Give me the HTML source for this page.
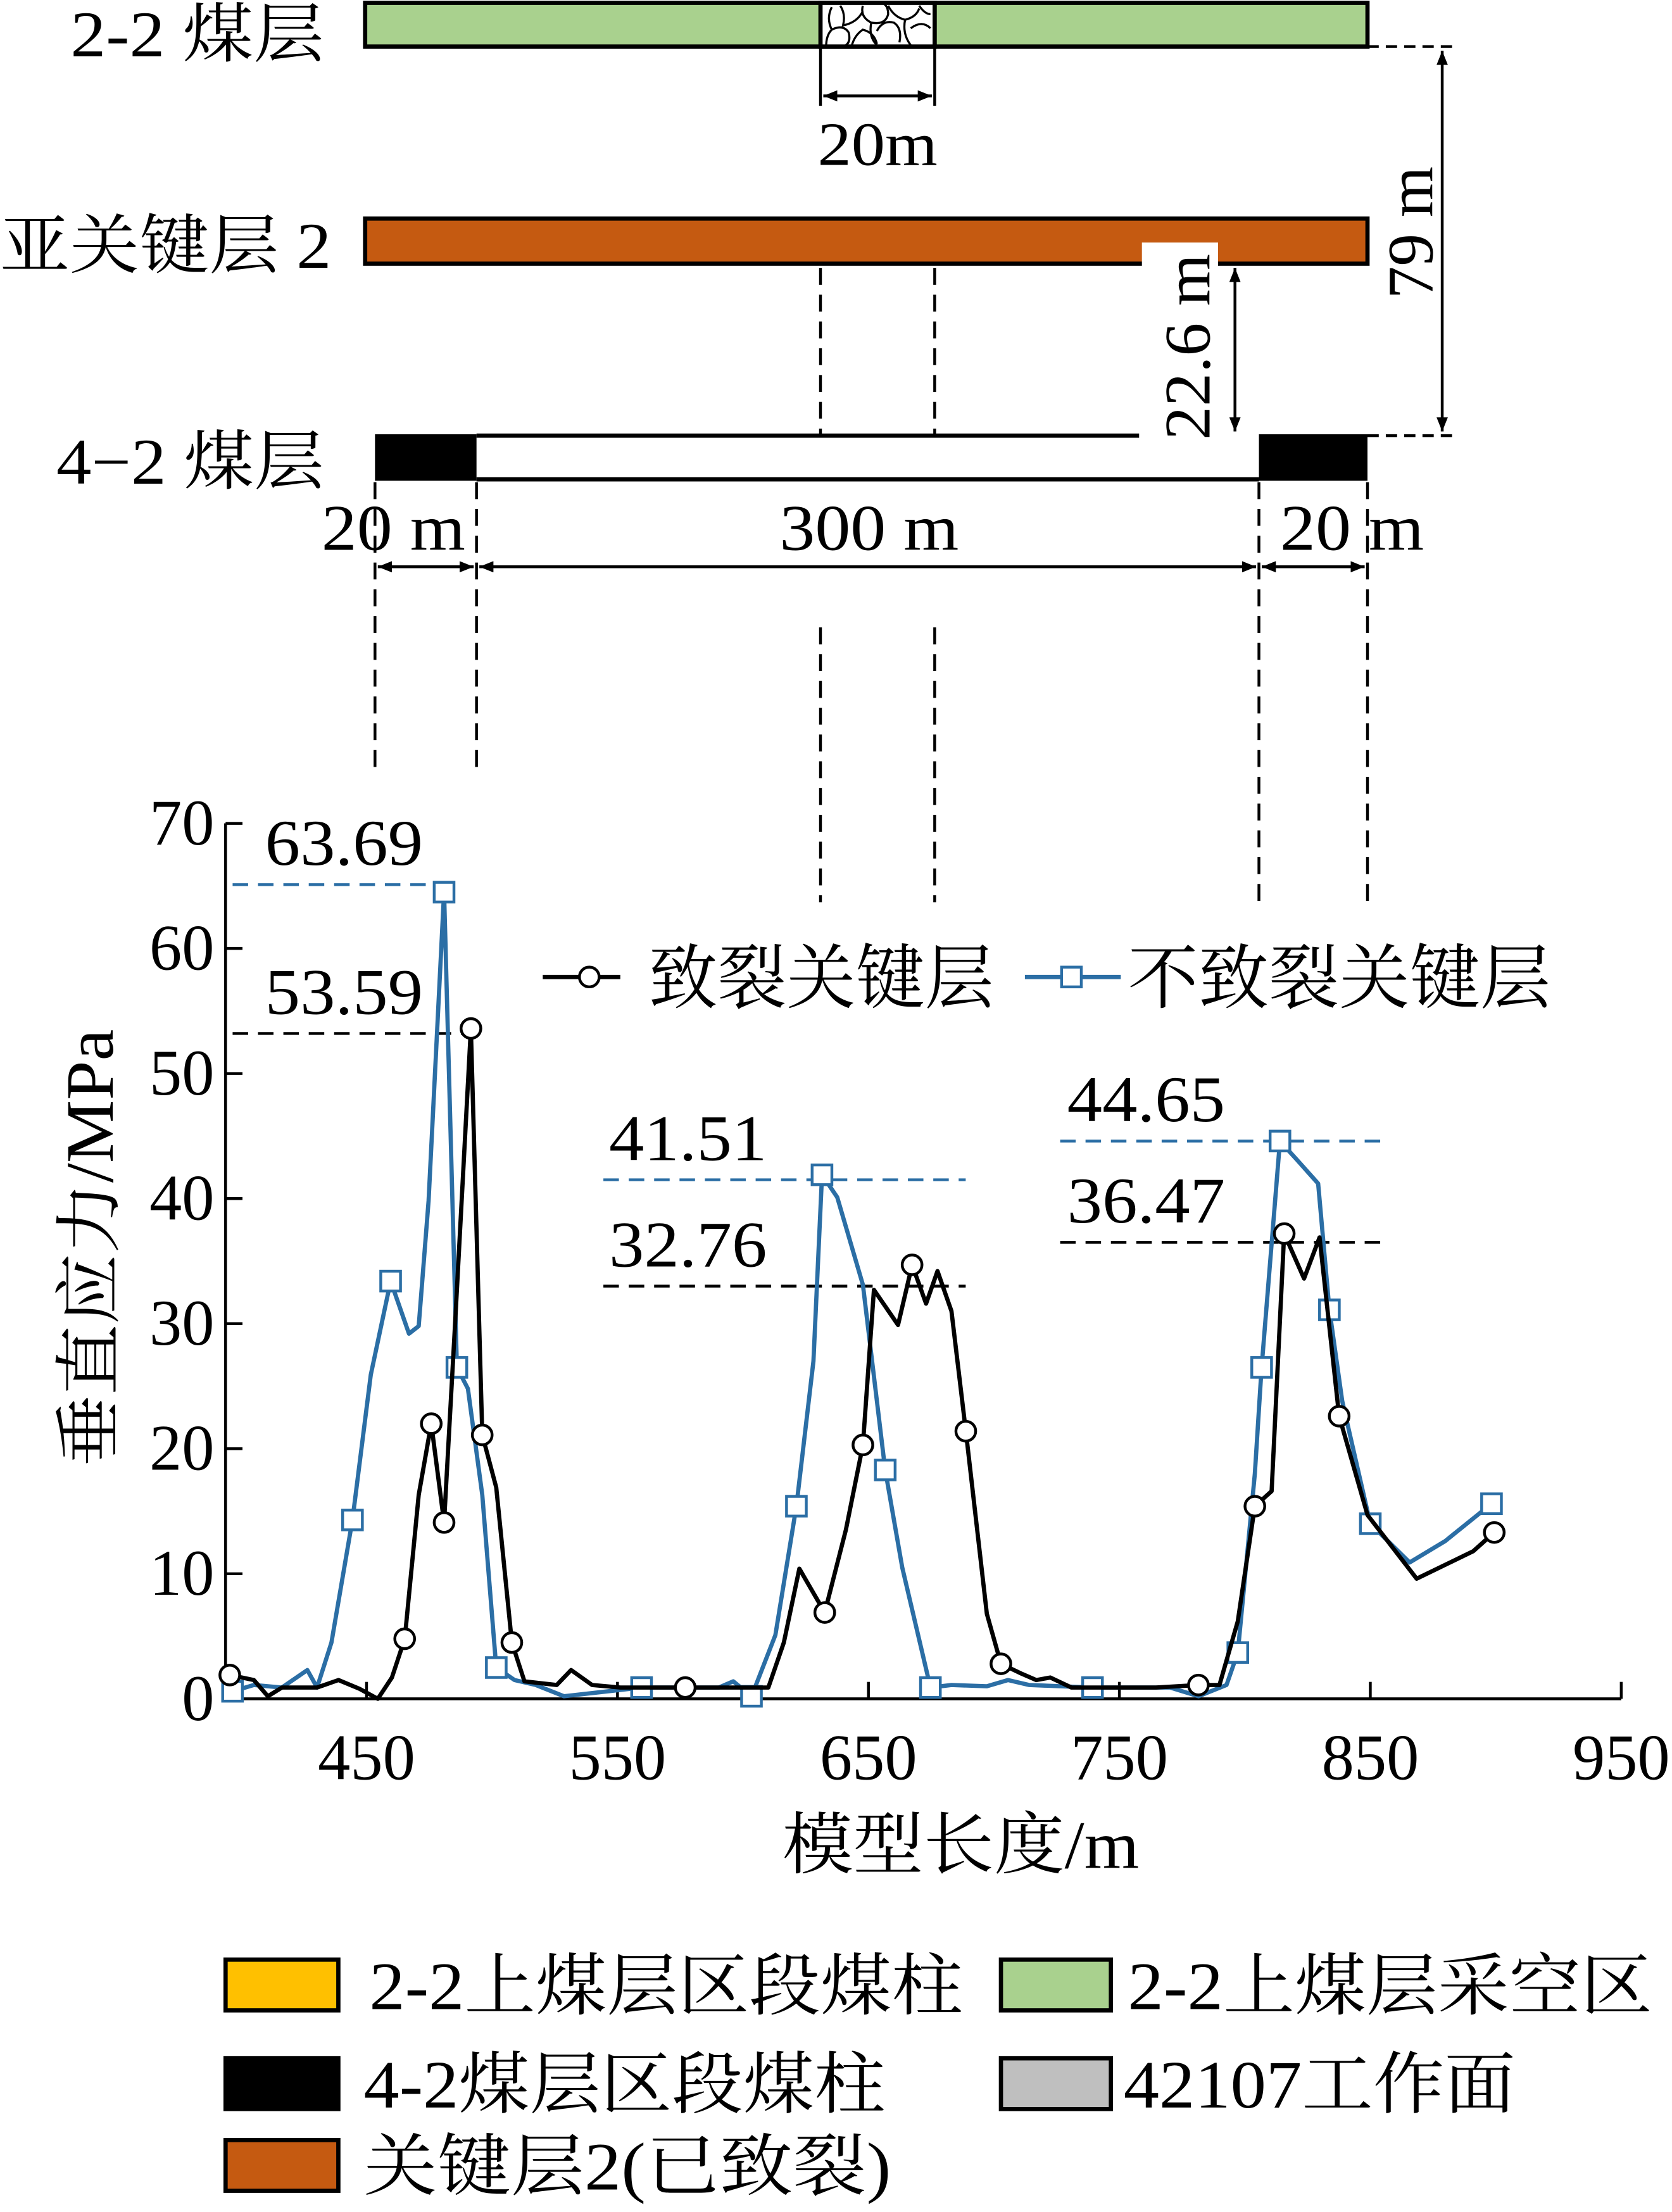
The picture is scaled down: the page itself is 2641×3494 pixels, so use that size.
<!DOCTYPE html>
<html><head><meta charset="utf-8"><style>
html,body{margin:0;padding:0;background:#fff;}
svg{display:block;}
text{font-family:"Liberation Serif","Noto Serif CJK SC",serif;fill:#000;}
</style></head><body>
<svg id="fig" width="2641" height="3494" viewBox="0 0 1186 1569" xmlns="http://www.w3.org/2000/svg">
<defs>
<marker id="ah" markerWidth="10" markerHeight="8" refX="10" refY="4" orient="auto-start-reverse" markerUnits="userSpaceOnUse"><path d="M0,0 L10,4 L0,8 z" fill="#000"/></marker>
</defs>
<g>
<text x="50" y="40" font-size="46" textLength="180" lengthAdjust="spacingAndGlyphs">2-2 煤层</text>
<rect x="259" y="2" width="711" height="31" fill="#A9D18E" stroke="#000" stroke-width="3"/>
<g>
<rect x="582" y="2" width="81" height="31" fill="#fff" stroke="#000" stroke-width="3"/>
<g fill="none" stroke="#000" stroke-width="1.5">
<path d="M586,33 q0,-8 4,-12 q-4,-8 0,-16 M590,21 q8,-4 12,2 q2,8 -4,10 M596,4 q4,6 2,14 q10,-2 14,-10 M612,4 q-2,8 6,12 q10,2 12,-6 q0,-6 -4,-8 M604,33 q2,-8 8,-12 q8,2 10,10 M618,16 q-2,10 4,16 M622,22 q4,-8 12,-6 q6,4 4,14 M630,4 q4,8 12,10 q8,-2 10,-8 M642,14 q-2,10 4,18 M646,20 q8,-6 14,0 M652,4 q4,6 8,6"/>
</g></g>
<line x1="970" y1="33" x2="1030" y2="33" stroke="#000" stroke-width="2" stroke-dasharray="8,5"/>
<line x1="582" y1="33" x2="582" y2="75" stroke="#000" stroke-width="2"/>
<line x1="663" y1="33" x2="663" y2="75" stroke="#000" stroke-width="2"/>
<line x1="584" y1="68" x2="661" y2="68" stroke="#000" stroke-width="2" marker-start="url(#ah)" marker-end="url(#ah)"/>
<text x="580" y="117" font-size="44" textLength="85" lengthAdjust="spacingAndGlyphs">20m</text>
<text x="0" y="190" font-size="46" textLength="235" lengthAdjust="spacingAndGlyphs">亚关键层 2</text>
<rect x="259" y="155" width="711" height="32" fill="#C55A11" stroke="#000" stroke-width="3"/>
<rect x="810" y="172" width="54" height="20" fill="#fff"/>
<line x1="582" y1="190" x2="582" y2="310" stroke="#000" stroke-width="2" stroke-dasharray="12,7"/>
<line x1="663" y1="190" x2="663" y2="310" stroke="#000" stroke-width="2" stroke-dasharray="12,7"/>
<line x1="876" y1="190" x2="876" y2="306" stroke="#000" stroke-width="2" marker-start="url(#ah)" marker-end="url(#ah)"/>
<text transform="translate(858,312) rotate(-90)" font-size="46" textLength="132" lengthAdjust="spacingAndGlyphs">22.6 m</text>
<line x1="1023" y1="36" x2="1023" y2="306" stroke="#000" stroke-width="2" marker-start="url(#ah)" marker-end="url(#ah)"/>
<text transform="translate(1016,212) rotate(-90)" font-size="46" textLength="94" lengthAdjust="spacingAndGlyphs">79 m</text>
<line x1="970" y1="309" x2="1030" y2="309" stroke="#000" stroke-width="2" stroke-dasharray="8,5"/>
<text x="40" y="343" font-size="46" textLength="190" lengthAdjust="spacingAndGlyphs">4−2 煤层</text>
<line x1="338" y1="309" x2="808" y2="309" stroke="#000" stroke-width="3"/>
<line x1="338" y1="340" x2="893" y2="340" stroke="#000" stroke-width="3"/>
<rect x="266" y="308" width="72" height="33" fill="#000"/>
<rect x="893" y="308" width="77" height="33" fill="#000"/>
<text x="228" y="390" font-size="46" textLength="102" lengthAdjust="spacingAndGlyphs">20 m</text>
<text x="553" y="390" font-size="46" textLength="127" lengthAdjust="spacingAndGlyphs">300 m</text>
<text x="908" y="390" font-size="46" textLength="102" lengthAdjust="spacingAndGlyphs">20 m</text>
<line x1="268" y1="402" x2="336" y2="402" stroke="#000" stroke-width="2" marker-start="url(#ah)" marker-end="url(#ah)"/>
<line x1="340" y1="402" x2="891" y2="402" stroke="#000" stroke-width="2" marker-start="url(#ah)" marker-end="url(#ah)"/>
<line x1="895" y1="402" x2="968" y2="402" stroke="#000" stroke-width="2" marker-start="url(#ah)" marker-end="url(#ah)"/>
<g stroke="#000" stroke-width="2" stroke-dasharray="12,7">
<line x1="266" y1="342" x2="266" y2="545"/><line x1="338" y1="342" x2="338" y2="545"/>
<line x1="893" y1="342" x2="893" y2="640"/><line x1="970" y1="342" x2="970" y2="640"/>
<line x1="582" y1="445" x2="582" y2="640"/><line x1="663" y1="445" x2="663" y2="640"/>
</g>
</g>
<g id="chart"></g>
<g>
<rect x="160" y="1390" width="80" height="36" fill="#FFC000" stroke="#000" stroke-width="3"/>
<text x="262" y="1425" font-size="48" textLength="421" lengthAdjust="spacingAndGlyphs">2-2上煤层区段煤柱</text>
<rect x="710" y="1390" width="78" height="36" fill="#A9D18E" stroke="#000" stroke-width="3"/>
<text x="800" y="1425" font-size="48" textLength="372" lengthAdjust="spacingAndGlyphs">2-2上煤层采空区</text>
<rect x="160" y="1460" width="80" height="36" fill="#000" stroke="#000" stroke-width="3"/>
<text x="258" y="1495" font-size="48" textLength="370" lengthAdjust="spacingAndGlyphs">4-2煤层区段煤柱</text>
<rect x="710" y="1460" width="78" height="36" fill="#BFBFBF" stroke="#000" stroke-width="3"/>
<text x="797" y="1495" font-size="48" textLength="278" lengthAdjust="spacingAndGlyphs">42107工作面</text>
<rect x="160" y="1518" width="80" height="36" fill="#C55A11" stroke="#000" stroke-width="3"/>
<text x="258" y="1553" font-size="48" textLength="374" lengthAdjust="spacingAndGlyphs">关键层2(已致裂)</text>
</g>
</svg>
<script>
const xTicks=[450,550,650,750,850,950];
const yTicks=[0,10,20,30,40,50,60,70];
const blackX=[395.5,405.1,410.7,416.3,430.3,438.8,447.2,454.5,460.1,465.2,470.8,475.8,480.9,485.4,491.6,496.1,501.7,507.9,512.9,525.8,531.5,539.9,551.1,577.0,596.1,610.1,616.3,622.5,632.6,641.0,647.8,652.2,661.8,667.4,673.0,677.5,683.1,688.8,697.2,702.8,711.2,716.9,722.5,730.9,764.6,781.5,789.9,797.2,804.0,810.7,815.7,823.6,829.8,837.6,848.9,868.5,891.0,899.4];
const blackY=[1.9,1.5,0.2,0.9,0.9,1.5,0.8,0,1.7,4.8,16.3,22.0,14.1,30.4,53.6,21.1,16.9,4.5,1.4,1.1,2.3,1.1,0.9,0.9,0.9,0.9,4.5,10.4,6.9,13.5,20.3,32.7,29.9,34.7,31.6,34.2,31.0,21.4,6.8,2.8,2.0,1.5,1.7,0.9,0.9,1.1,1.1,6.2,15.4,16.6,37.2,33.6,36.9,22.6,14.7,9.6,11.8,13.3];
const blackMarkers=[0,9,11,12,14,15,17,23,28,30,33,37,39,45,48,50,53,57];
const blueX=[396.6,405.1,416.3,426.4,430.3,436.0,444.4,451.7,459.6,466.9,470.8,474.7,480.9,486.0,490.4,496.1,501.7,509.0,517.4,528.7,559.6,590.4,596.1,603.4,612.9,621.3,628.1,631.5,637.6,647.8,656.7,663.5,674.7,683.1,697.2,705.6,714.0,739.3,770.2,781.5,792.7,797.2,804.0,806.7,814.0,820.8,829.2,833.7,838.8,850.0,865.7,879.8,898.3];
const blueY=[0.6,1.1,0.9,2.3,0.9,4.5,14.3,25.9,33.4,29.2,29.8,39.8,64.5,26.5,24.8,16.3,2.5,1.5,1.1,0.2,0.9,0.9,1.4,0.2,5.1,15.4,27.0,41.9,40.1,33.1,18.3,10.5,0.9,1.1,1.0,1.5,1.1,0.9,0.9,0.2,1.1,3.7,18.0,26.5,44.6,43.1,41.2,31.1,23.8,14.0,10.9,12.6,15.6];
const blueMarkers=[0,6,8,12,13,16,20,23,25,27,30,32,37,41,43,44,47,49,52];
const annLabels=["63.69","53.59","41.51","32.76","44.65","36.47"];
const annValues=[65.1,53.2,41.5,33.0,44.6,36.5];

const NS="http://www.w3.org/2000/svg";
const g=document.getElementById('chart');
const X=v=>260+(v-450)*1.78;
const Y=v=>1205-v*8.871;
function mk(tag,attrs,parent){const e=document.createElementNS(NS,tag);for(const k in attrs)e.setAttribute(k,attrs[k]);(parent||g).appendChild(e);return e;}

let ax=mk('path',{d:'M160,584 L160,1205 L1150,1205',fill:'none',stroke:'#000','stroke-width':2});


xTicks.forEach(t=>{
  let l=mk('line',{x1:X(t),x2:X(t),y1:1205,y2:1193,stroke:'#000','stroke-width':2});
  
  
  let tx=mk('text',{x:X(t),y:1262,'font-size':46,'text-anchor':'middle'});tx.textContent=t;
  
  
});
yTicks.forEach(t=>{
  let l=mk('line',{x1:160,x2:172,y1:Y(t),y2:Y(t),stroke:'#000','stroke-width':2});
  
  
  let tx=mk('text',{x:152,y:Y(t)+15,'font-size':46,'text-anchor':'end'});tx.textContent=t;
  
  
});
let xt=mk('text',{x:555,y:1325,'font-size':48,textLength:253,lengthAdjust:'spacingAndGlyphs'});xt.textContent='模型长度/m';


let yt=mk('text',{transform:'translate(80,1040) rotate(-90)','font-size':48,textLength:310,lengthAdjust:'spacingAndGlyphs'});yt.textContent='垂直应力/MPa';



const annX=[[165,325,188],[165,332,188],[428,685,432],[428,685,432],[752,982,757],[752,982,757]];
const annCol=['#2b6ea5','#000','#2b6ea5','#000','#2b6ea5','#000'];
annLabels.forEach((s,i)=>{
  const y=Y(annValues[i]);
  let l=mk('line',{x1:annX[i][0],x2:annX[i][1],y1:y,y2:y,stroke:annCol[i],'stroke-width':2,'stroke-dasharray':'11,7'});
  
  
  let t=mk('text',{x:annX[i][2],y:y-14,'font-size':46,textLength:112,lengthAdjust:'spacingAndGlyphs'});t.textContent=s;
  
  
});

function series(xs,ys,marks,col,shape,name){
  let d=xs.map((x,i)=>(i?'L':'M')+X(x).toFixed(1)+','+Y(ys[i]).toFixed(1)).join(' ');
  let p=mk('path',{d:d,fill:'none',stroke:col,'stroke-width':3,'stroke-linejoin':'round'});
  
  
  marks.forEach(i=>{
    let m;
    if(shape==='c') m=mk('circle',{cx:X(xs[i]),cy:Y(ys[i]),r:7,fill:'#fff',stroke:col,'stroke-width':2});
    else m=mk('rect',{x:X(xs[i])-7,y:Y(ys[i])-7,width:14,height:14,fill:'#fff',stroke:col,'stroke-width':2});
    
    
  });
}
series(blueX,blueY,blueMarkers,'#2b6ea5','s','unfractured-series');
series(blackX,blackY,blackMarkers,'#000','c','fractured-series');

let l1=mk('line',{x1:385,x2:440,y1:693,y2:693,stroke:'#000','stroke-width':3});


let c1=mk('circle',{cx:418,cy:693,r:7,fill:'#fff',stroke:'#000','stroke-width':2});


let t1=mk('text',{x:460,y:711,'font-size':50,textLength:245,lengthAdjust:'spacingAndGlyphs'});t1.textContent='致裂关键层';


let l2=mk('line',{x1:727,x2:795,y1:693,y2:693,stroke:'#2b6ea5','stroke-width':3});


let s2=mk('rect',{x:753,y:686,width:14,height:14,fill:'#fff',stroke:'#2b6ea5','stroke-width':2});


let t2=mk('text',{x:800,y:711,'font-size':50,textLength:300,lengthAdjust:'spacingAndGlyphs'});t2.textContent='不致裂关键层';


</script>
</body></html>
